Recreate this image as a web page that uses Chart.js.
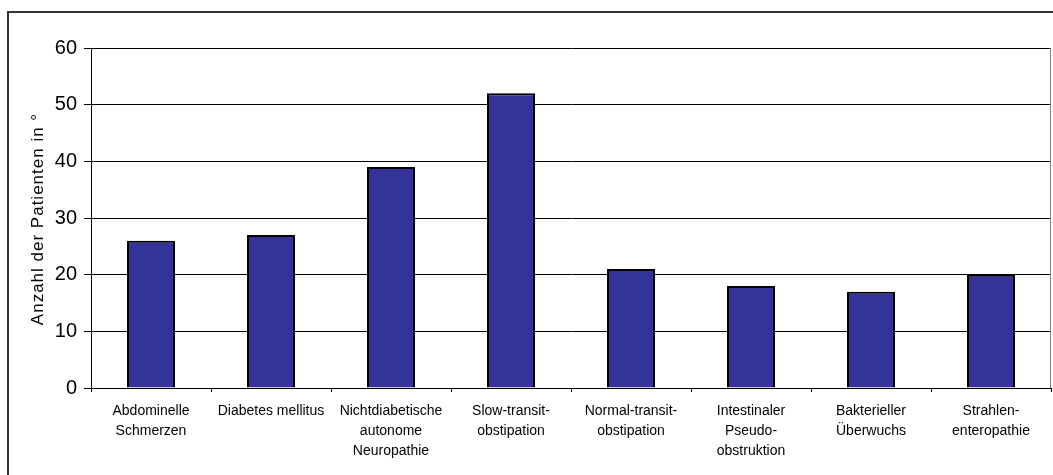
<!DOCTYPE html>
<html>
<head>
<meta charset="utf-8">
<script src="https://cdn.jsdelivr.net/npm/chart.js@4"></script>
<style>
  html, body { margin: 0; padding: 0; background: #fff; }
  #wrap { width: 1053px; height: 475px; position: relative; }
</style>
</head>
<body>
<div id="wrap"><canvas id="c" width="1053" height="475"></canvas></div>
<script>
// Diagnosegruppen (Beschriftung mehrzeilig)
const categories = [
  ["Abdominelle", "Schmerzen"],
  ["Diabetes mellitus"],
  ["Nichtdiabetische", "autonome", "Neuropathie"],
  ["Slow-transit-", "obstipation"],
  ["Normal-transit-", "obstipation"],
  ["Intestinaler", "Pseudo-", "obstruktion"],
  ["Bakterieller", "Überwuchs"],
  ["Strahlen-", "enteropathie"]
];
// Anteil der Patienten in %
const patientValues = [26, 27, 39, 52, 21, 18, 17, 20];
const yTicks = [0, 10, 20, 30, 40, 50, 60];
const yTitle = "Anzahl der Patienten in °";

const FONT = "'Liberation Sans', Arial, sans-serif";

// Rahmen um das Diagramm, rechte Kante der Zeichenfläche und Achsentitel
const framePlugin = {
  id: 'frame',
  beforeDraw(chart) {
    const ctx = chart.ctx;
    ctx.save();
    ctx.fillStyle = '#ffffff';
    ctx.fillRect(0, 0, chart.width, chart.height);
    ctx.strokeStyle = '#333333';
    ctx.lineWidth = 2;
    ctx.beginPath();
    ctx.moveTo(8, chart.height + 2);
    ctx.lineTo(8, 12);
    ctx.lineTo(chart.width + 2, 12);
    ctx.stroke();
    ctx.restore();
  },
  afterDatasetsDraw(chart) {
    const a = chart.chartArea;
    const ctx = chart.ctx;
    ctx.save();
    ctx.strokeStyle = '#808080';
    ctx.lineWidth = 1;
    ctx.beginPath();
    ctx.moveTo(a.right - 0.5, a.top);
    ctx.lineTo(a.right - 0.5, a.bottom);
    ctx.stroke();
    ctx.restore();
  },
  afterDraw(chart) {
    const a = chart.chartArea;
    const ctx = chart.ctx;
    ctx.save();
    ctx.translate(38, (a.top + a.bottom) / 2 + 1);
    ctx.rotate(-Math.PI / 2);
    ctx.font = "17px " + FONT;
    if ('letterSpacing' in ctx) ctx.letterSpacing = '1px';
    ctx.fillStyle = '#000000';
    ctx.textAlign = 'center';
    ctx.textBaseline = 'middle';
    ctx.fillText(yTitle, 0, 0);
    ctx.restore();
  }
};

new Chart(document.getElementById('c'), {
  type: 'bar',
  data: {
    labels: categories,
    datasets: [{
      data: patientValues,
      backgroundColor: '#333399',
      borderColor: '#000000',
      borderWidth: 2,
      barPercentage: 0.4,
      categoryPercentage: 1.0
    }]
  },
  options: {
    responsive: false,
    animation: false,
    events: [],
    layout: { padding: { left: 0, right: 2, top: 48, bottom: 0 } },
    plugins: {
      legend: { display: false },
      tooltip: { enabled: false }
    },
    scales: {
      x: {
        offset: true,
        grid: {
          offset: true,
          drawOnChartArea: false,
          drawTicks: true,
          tickLength: 4,
          color: '#000000',
          lineWidth: 1
        },
        border: { display: true, color: '#000000', width: 1 },
        ticks: {
          color: '#000000',
          font: { family: FONT, size: 14, lineHeight: 1.43 },
          padding: 9,
          maxRotation: 0,
          minRotation: 0,
          autoSkip: false
        },
        afterFit(scale) { scale.height = 87; }
      },
      y: {
        min: 0,
        max: 60,
        afterBuildTicks(scale) { scale.ticks = yTicks.map(v => ({ value: v })); },
        grid: {
          color: '#000000',
          lineWidth: 1,
          tickLength: 7,
          drawTicks: true
        },
        border: { display: true, color: '#000000', width: 1 },
        ticks: {
          color: '#000000',
          font: { family: FONT, size: 20 },
          padding: 7
        },
        afterFit(scale) { scale.width = 91; }
      }
    }
  },
  plugins: [framePlugin]
});
</script>
</body>
</html>
